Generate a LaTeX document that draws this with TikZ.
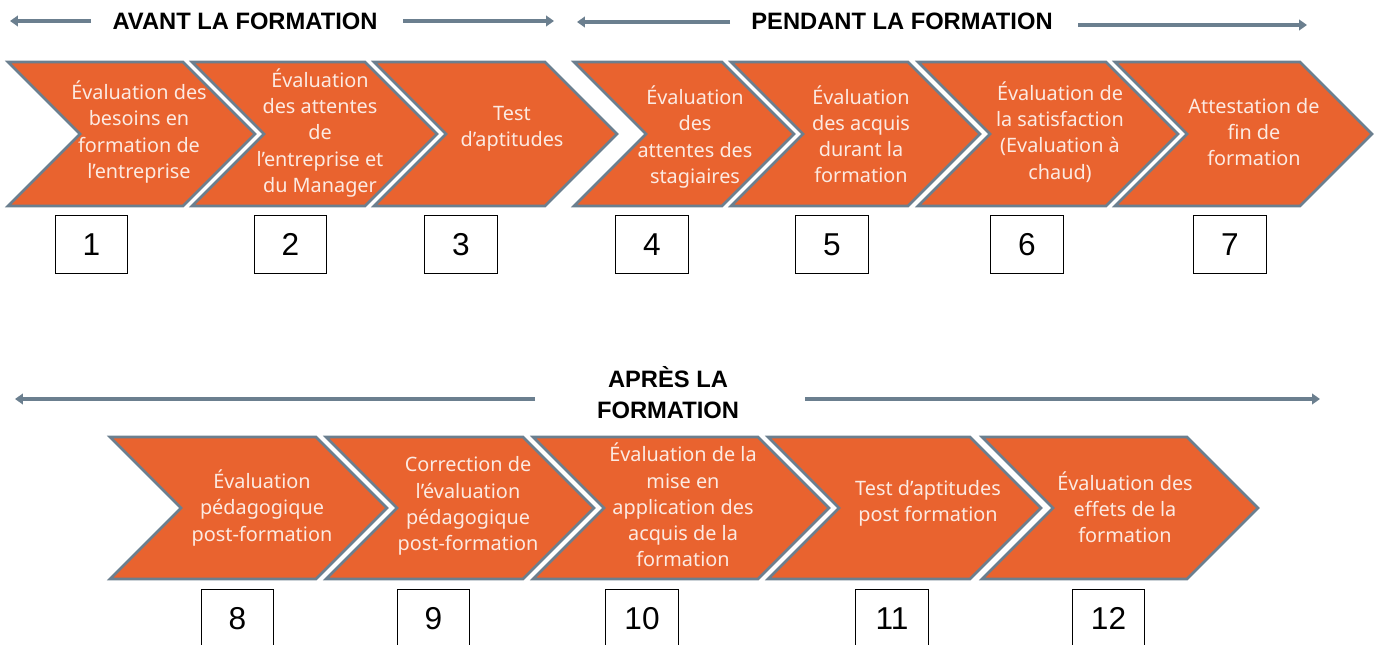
\documentclass[tikz,border=0pt]{standalone}
\usepackage{fontspec}
\setmainfont{Noto Sans}
\newfontfamily\numfont{Liberation Sans}
\newfontfamily\phasefont{Liberation Sans}
\usetikzlibrary{arrows.meta}

\definecolor{chevfill}{HTML}{E9632F}
\definecolor{chevline}{HTML}{6B7F8F}
\definecolor{arrowgray}{HTML}{6B7F8F}
\definecolor{chevtextcol}{HTML}{FCEAE2}

\begin{document}
\begin{tikzpicture}[x=0.02cm, y=-0.02cm,
    chev/.style={fill=chevfill, draw=chevline, line width=1.5pt, line join=miter},
    chevtext/.style={text=chevtextcol, align=center, inner sep=0pt, font=\fontsize{11.3}{14.9}\selectfont},
    numbox/.style={draw=black, fill=white, line width=0.7pt, minimum width=41.4pt, minimum height=33.4pt, inner sep=0pt, font=\numfont\fontsize{18}{20}\selectfont},
    phase/.style={align=center, inner sep=0pt, font=\phasefont\bfseries\fontsize{13.5}{17.6}\selectfont},
    phasearrow/.style={draw=arrowgray, line width=1.8pt, -{Triangle[length=4.5pt,width=6pt]}}]

    \useasboundingbox (0,0) rectangle (1383,645);
    \clip (0,0) rectangle (1383,645);

    % phase titles
    \node (avant)   at ( 245, 21 ) [phase] {AVANT LA FORMATION};
    \node (pendant) at ( 902, 21 ) [phase] {PENDANT LA FORMATION};
    \node (apres)   at ( 668, 393 ) [phase] {APRÈS LA\\FORMATION};

    \coordinate (avantA) at ( 91, 21 );
    \coordinate (avantB) at ( 10, 21 );
    \coordinate (avantC) at ( 403, 21 );
    \coordinate (avantD) at ( 554, 21 );
    \draw[phasearrow] (avantA) -- (avantB);
    \draw[phasearrow] (avantC) -- (avantD);

    \coordinate (pendantA) at ( 730, 22 );
    \coordinate (pendantB) at ( 577, 22 );
    \coordinate (pendantC) at ( 1078, 25 );
    \coordinate (pendantD) at ( 1307, 25 );
    \draw[phasearrow] (pendantA) -- (pendantB);
    \draw[phasearrow] (pendantC) -- (pendantD);

    \coordinate (apresA) at ( 535, 399 );
    \coordinate (apresB) at ( 15, 399 );
    \coordinate (apresC) at ( 805, 399 );
    \coordinate (apresD) at ( 1320, 399 );
    \draw[phasearrow] (apresA) -- (apresB);
    \draw[phasearrow] (apresC) -- (apresD);

    % first row of chevrons
    \draw[chev] (8,62) -- (183,62) -- (255,134) -- (183,206) -- (8,206) -- (80,134) -- cycle;
    \draw[chev] (192,62) -- (365,62) -- (437,134) -- (365,206) -- (192,206) -- (264,134) -- cycle;
    \draw[chev] (374,62) -- (545,62) -- (617,134) -- (545,206) -- (374,206) -- (446,134) -- cycle;
    \draw[chev] (574,62) -- (722,62) -- (794,134) -- (722,206) -- (574,206) -- (646,134) -- cycle;
    \draw[chev] (731,62) -- (908,62) -- (980,134) -- (908,206) -- (731,206) -- (803,134) -- cycle;
    \draw[chev] (918,62) -- (1106,62) -- (1178,134) -- (1106,206) -- (918,206) -- (990,134) -- cycle;
    \draw[chev] (1115,62) -- (1300,62) -- (1372,134) -- (1300,206) -- (1115,206) -- (1187,134) -- cycle;

    \node (txt1) at ( 139, 132 ) [chevtext] {Évaluation des\\besoins en\\formation de\\l’entreprise};
    \node (txt2) at ( 320, 133 ) [chevtext] {Évaluation\\des attentes\\de\\l’entreprise et\\du Manager};
    \node (txt3) at ( 512, 129 ) [chevtext] {Test\\d’aptitudes};
    \node (txt4) at ( 695, 137 ) [chevtext] {Évaluation\\des\\attentes des\\stagiaires};
    \node (txt5) at ( 861, 134 ) [chevtext] {Évaluation\\des acquis\\durant la\\formation};
    \node (txt6) at ( 1060, 132 ) [chevtext] {Évaluation de\\la satisfaction\\(Evaluation à\\chaud)};
    \node (txt7) at ( 1254, 132 ) [chevtext] {Attestation de\\fin de\\formation};

    \node (num1) at ( 91.5, 244.5 ) [numbox] {1};
    \node (num2) at ( 290.5, 244.5 ) [numbox] {2};
    \node (num3) at ( 461, 244.5 ) [numbox] {3};
    \node (num4) at ( 652, 244.5 ) [numbox] {4};
    \node (num5) at ( 832, 244.5 ) [numbox] {5};
    \node (num6) at ( 1027, 244.5 ) [numbox] {6};
    \node (num7) at ( 1230, 244.5 ) [numbox] {7};

    % second row of chevrons
    \draw[chev] (110,437) -- (316,437) -- (387,508) -- (316,579) -- (110,579) -- (181,508) -- cycle;
    \draw[chev] (326,437) -- (523,437) -- (594,508) -- (523,579) -- (326,579) -- (397,508) -- cycle;
    \draw[chev] (533,437) -- (758,437) -- (829,508) -- (758,579) -- (533,579) -- (604,508) -- cycle;
    \draw[chev] (768,437) -- (970,437) -- (1041,508) -- (970,579) -- (768,579) -- (839,508) -- cycle;
    \draw[chev] (982,437) -- (1187,437) -- (1258,508) -- (1187,579) -- (982,579) -- (1053,508) -- cycle;

    \node (txt8)  at ( 262, 508 ) [chevtext] {Évaluation\\pédagogique\\post-formation};
    \node (txt9)  at ( 468, 506 ) [chevtext] {Correction de\\l’évaluation\\pédagogique\\post-formation};
    \node (txt10) at ( 683, 505 ) [chevtext] {Évaluation de la\\mise en\\application des\\acquis de la\\formation};
    \node (txt11) at ( 928, 503 ) [chevtext] {Test d’aptitudes\\post formation};
    \node (txt12) at ( 1125, 507 ) [chevtext] {Évaluation des\\effets de la\\formation};

    \node (num8)  at ( 237.5, 618.5 ) [numbox] {8};
    \node (num9)  at ( 433.5, 618.5 ) [numbox] {9};
    \node (num10) at ( 642, 618.5 ) [numbox] {10};
    \node (num11) at ( 892, 618.5 ) [numbox] {11};
    \node (num12) at ( 1108.5, 618.5 ) [numbox] {12};

\end{tikzpicture}
\end{document}
